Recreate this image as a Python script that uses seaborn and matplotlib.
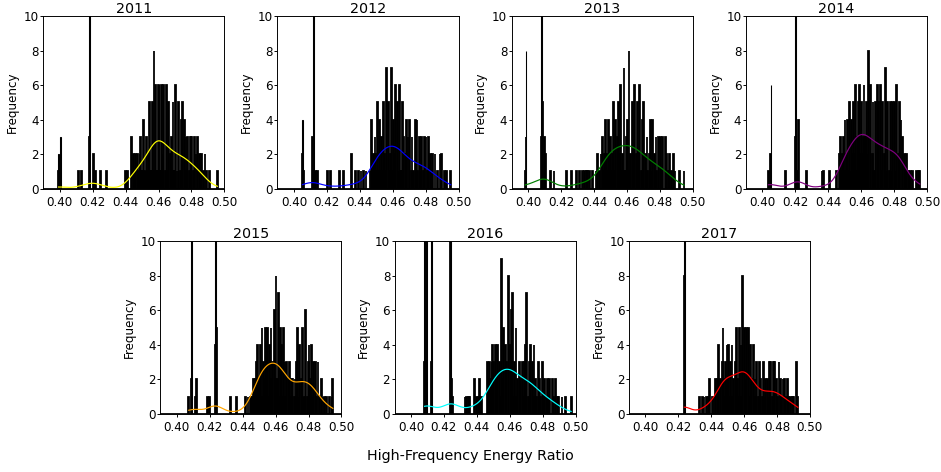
import matplotlib
matplotlib.use("Agg")
import matplotlib.pyplot as plt
import numpy as np
import seaborn as sns

# bar heights: one hex digit per 0.0005-wide bin,
# one string per 0.01 stretch from 0.39 up to 0.50
years = [2011, 2012, 2013, 2014, 2015, 2016, 2017]
line_colors = ["yellow", "blue", "green", "purple", "orange", "cyan", "red"]

counts_2011 = [
    "00000000000000000010", "10000000000000000000", "00100010000000003000",
    "02010000010000001000", "00000000000000000001", "00100003021020210231",
    "14110312051150816116", "61161260161150230511", "60105014050403130130",
    "30130203020120102010", "01000000000100000000",
]
counts_2012 = [
    "00000000000000000000", "00000000002100000000", "00320010100000000000",
    "10001000000000010000", "10000000020000100010", "01001001000010412132",
    "15140131502170511271", "41260510611503024030", "40130104041030130130",
    "30130201200200100202", "00100100001000000000",
]
counts_2013 = [
    "00000000000000001300", "00000000000000003503", "02000001000100000000",
    "00000010000010000010", "00100010101010100010", "00102010203121421423",
    "31251140350261207113", "41802051260250260140", "50203102401402031030",
    "30130030201200102010", "00010000010000000000",
]
counts_2014 = [
    "00000000000000000000", "00000001022000000000", "00000000100000000000",
    "30104000000001000000", "00000000000010100000", "01000000001002131231",
    "40241510425126135262", "52361351280602501506", "15061050270150151050",
    "50160250403020120101", "10100001010100000000",
]
counts_2015 = [
    "00000000000000000000", "00000000000000100200", "00120000000000000101",
    "00000040500000000000", "00000100000010000000", "00010010011012123142",
    "24151325145142513062", "80271514151313023112", "20120350140250116013",
    "40240130310301020101", "01000100120000000000",
]
counts_2016 = [
    "00000000000000000000", "00000000000000003330", "00003000000000000000",
    "0000000b021000000000", "00000101010100000201", "01020100000030232134",
    "30412403190250413080", "40671305120312031304", "70130403140210302103",
    "10201201200201020101", "00010001000000100000",
]
counts_2017 = [
    "00000000000000000000", "00000000000000000000", "00000000000000000000",
    "00000008000000000000", "00000100010100101020", "01010202040203521324",
    "14130412035021504180", "51250514120402130130", "20130120201330130302",
    "10302102021020101010", "10030100000000000000",
]

# lone thin bars whose drawn height is larger than their share of the curve
tall_x_2011, tall_h_2011 = [0.3992, 0.4003, 0.4183], [2, 3, 12]
tall_x_2012, tall_h_2012 = [0.4053, 0.4117], [4, 12]
tall_x_2013, tall_h_2013 = [0.3987, 0.4083], [8, 12]
tall_x_2014, tall_h_2014 = [0.4052, 0.4203], [6, 12]
tall_x_2015, tall_h_2015 = [0.4087, 0.4232], [12, 12]
tall_x_2016, tall_h_2016 = [0.4083, 0.4093, 0.4124, 0.4238], [12, 12, 12, 12]
tall_x_2017, tall_h_2017 = [0.4238], [12]

all_counts = [counts_2011, counts_2012, counts_2013, counts_2014,
              counts_2015, counts_2016, counts_2017]
all_tall = [(tall_x_2011, tall_h_2011), (tall_x_2012, tall_h_2012),
            (tall_x_2013, tall_h_2013), (tall_x_2014, tall_h_2014),
            (tall_x_2015, tall_h_2015), (tall_x_2016, tall_h_2016),
            (tall_x_2017, tall_h_2017)]

step = 0.0005
edges = 0.39 + step * np.arange(221)


def expand(segments):
    for s in segments:
        assert len(s) == 20, s
    counts = [int(ch, 16) for ch in "".join(segments)]
    centers = edges[:-1] + step / 2
    return np.repeat(centers, counts)


dpi = 85.5
fig = plt.figure(figsize=(941 / dpi, 472 / dpi), dpi=dpi)
gs = fig.add_gridspec(2, 8, left=0.046, right=0.985, top=0.966, bottom=0.123,
                      wspace=0.83, hspace=0.306)
slots = [gs[0, 0:2], gs[0, 2:4], gs[0, 4:6], gs[0, 6:8],
         gs[1, 1:3], gs[1, 3:5], gs[1, 5:7]]

for year, color, segs, (tall_x, tall_h), slot in zip(years, line_colors, all_counts,
                                                      all_tall, slots):
    ax = fig.add_subplot(slot)
    # tall lone bars first, so the main histogram and its curve sit on top
    sns.histplot(x=np.repeat(tall_x, tall_h), bins=edges,
                 color="black", facecolor="black", edgecolor="black",
                 linewidth=0.9, ax=ax)
    sns.histplot(x=expand(segs), bins=edges, kde=True, color=color,
                 facecolor="black", edgecolor="black", linewidth=1.5,
                 kde_kws={"bw_adjust": 0.75}, line_kws={"linewidth": 1.0},
                 ax=ax)
    ax.set_xlim(0.39, 0.50)
    ax.set_ylim(0, 10)
    ax.set_xticks(np.arange(0.40, 0.501, 0.02))
    ax.tick_params(axis="x", length=2.5)
    ax.tick_params(axis="y", length=2.5, pad=1.2)
    ax.set_title(str(year), pad=2.8)
    ax.set_xlabel("")
    ax.set_ylabel("Frequency")

fig.supxlabel("High-Frequency Energy Ratio", y=0.019)
fig.savefig("out.png", dpi=dpi)
